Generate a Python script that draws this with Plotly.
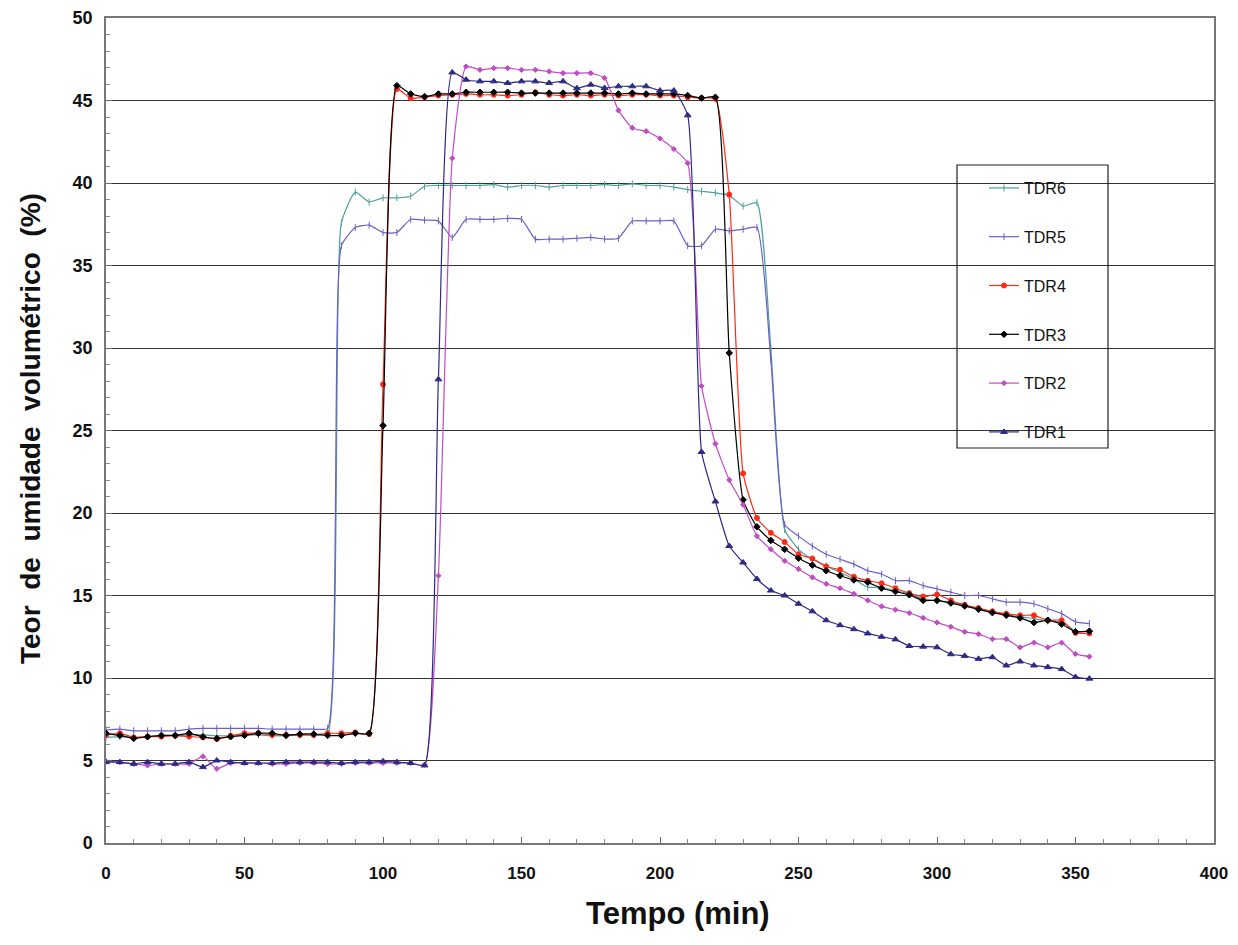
import plotly.graph_objects as go

tempo = list(range(0, 360, 5))

tdr1 = [4.9, 4.9, 4.8, 4.9, 4.8, 4.8, 4.9, 4.6, 5.0, 4.9, 4.85, 4.85, 4.85, 4.9, 4.9, 4.9,
        4.9, 4.85, 4.9, 4.9, 4.95, 4.9, 4.85, 4.7,
        28.1, 46.7, 46.26, 46.16, 46.16, 46.06, 46.16, 46.16, 46.06, 46.16, 45.74, 45.96,
        45.76, 45.86, 45.86, 45.86, 45.6, 45.6, 44.1,
        23.7, 20.7, 18.0, 17.0, 16.0, 15.3, 15.0, 14.5, 14.04, 13.5, 13.2, 12.96, 12.7, 12.5,
        12.34, 11.94, 11.9, 11.86, 11.44, 11.34, 11.16, 11.26, 10.76, 11.0, 10.76, 10.66,
        10.54, 10.06, 9.96]

tdr2 = [4.95, 4.9, 4.8, 4.7, 4.8, 4.8, 4.8, 5.25, 4.5, 4.85, 4.85, 4.85, 4.8, 4.8, 4.85,
        4.85, 4.8, 4.8, 4.85, 4.85, 4.85, 4.85, 4.85, 4.75,
        16.2, 41.5, 47.06, 46.86, 46.96, 46.96, 46.86, 46.86, 46.76, 46.66, 46.66, 46.66,
        46.36, 44.4, 43.34, 43.14, 42.7, 42.06, 41.2,
        27.7, 24.2, 22.0, 20.5, 18.6, 17.8, 17.1, 16.6, 16.1, 15.7, 15.44, 15.1, 14.7, 14.34,
        14.14, 13.94, 13.64, 13.36, 13.1, 12.8, 12.66, 12.36, 12.36, 11.86, 12.14, 11.86,
        12.14, 11.46, 11.3]

tdr3 = [6.65, 6.52, 6.34, 6.44, 6.52, 6.52, 6.65, 6.44, 6.34, 6.44, 6.52, 6.65, 6.65, 6.52,
        6.6, 6.6, 6.52, 6.52, 6.65, 6.65,
        25.3, 45.9, 45.4, 45.24, 45.4, 45.4, 45.5, 45.5, 45.5, 45.5, 45.45, 45.45, 45.45,
        45.45, 45.45, 45.45, 45.45, 45.4, 45.45, 45.4, 45.4, 45.4, 45.3, 45.15, 45.2, 29.7,
        20.8, 19.16, 18.34, 17.8, 17.26, 16.84, 16.5, 16.2, 15.94, 15.8, 15.44, 15.24, 15.04,
        14.7, 14.7, 14.54, 14.36, 14.16, 13.96, 13.8, 13.64, 13.36, 13.5, 13.26, 12.8, 12.84]

tdr4 = [6.55, 6.65, 6.4, 6.45, 6.45, 6.5, 6.45, 6.4, 6.3, 6.5, 6.65, 6.65, 6.55, 6.55, 6.55,
        6.55, 6.65, 6.65, 6.7, 6.6,
        27.8, 45.7, 45.14, 45.2, 45.3, 45.35, 45.4, 45.35, 45.35, 45.3, 45.35, 45.5, 45.35,
        45.3, 45.35, 45.3, 45.35, 45.3, 45.35, 45.35, 45.3, 45.3, 45.2, 45.15, 45.1, 39.3, 22.4,
        19.7, 18.8, 18.24, 17.5, 17.24, 16.76, 16.56, 16.14, 15.9, 15.74, 15.44, 15.14, 14.94,
        15.06, 14.7, 14.44, 14.24, 14.04, 13.9, 13.8, 13.8, 13.5, 13.5, 12.74, 12.7]

tdr5 = [6.85, 6.9, 6.8, 6.8, 6.8, 6.8, 6.9, 6.95, 6.95, 6.95, 6.95, 6.95, 6.9, 6.9, 6.9, 6.9,
        6.95,
        36.2, 37.3, 37.45, 37.0, 37.0, 37.8, 37.75, 37.7, 36.7, 37.8, 37.8, 37.8, 37.85, 37.8,
        36.6, 36.6, 36.6, 36.65, 36.7, 36.6, 36.65, 37.7, 37.7, 37.7, 37.7, 36.2, 36.2, 37.2,
        37.1, 37.2, 37.3, 29.3,
        19.3, 18.6, 18.0, 17.5, 17.2, 16.9, 16.5, 16.3, 15.9, 15.9, 15.6, 15.4, 15.2, 15.0,
        15.0, 14.8, 14.6, 14.6, 14.5, 14.2, 13.9, 13.4, 13.3]

tdr6 = [6.4, 6.45, 6.4, 6.45, 6.5, 6.5, 6.55, 6.55, 6.5, 6.5, 6.55, 6.55, 6.5, 6.5, 6.55,
        6.55, 6.6,
        37.6, 39.45, 38.85, 39.1, 39.1, 39.2, 39.8, 39.85, 39.85, 39.85, 39.85, 39.9, 39.75,
        39.85, 39.85, 39.75, 39.85, 39.85, 39.85, 39.9, 39.85, 39.95, 39.85, 39.85, 39.75,
        39.6, 39.5, 39.4, 39.25, 38.6, 38.8, 30.0,
        19.0, 17.8, 17.2, 16.8, 16.4, 16.0, 15.5, 15.5, 15.3, 15.1, 14.8, 14.7, 14.6, 14.4,
        14.2, 14.0, 13.85, 13.7, 13.6, 13.45, 13.4, 12.85, 12.8]

series_names = ["TDR6", "TDR5", "TDR4", "TDR3", "TDR2", "TDR1"]
series_values = [tdr6, tdr5, tdr4, tdr3, tdr2, tdr1]
series_colors = ["#4f9f9c", "#6b5fc8", "#ff2a17", "#000000", "#c04cc4", "#2e2a85"]
series_symbols = ["line-ns", "line-ns", "circle", "diamond", "diamond", "triangle-up"]
series_sizes = [5, 5, 5, 5, 4, 6]

x_ticks = [0, 50, 100, 150, 200, 250, 300, 350, 400]
y_ticks = [0, 5, 10, 15, 20, 25, 30, 35, 40, 45, 50]

fig = go.Figure()
for name, vals, col, sym, sz in zip(series_names, series_values, series_colors,
                                    series_symbols, series_sizes):
    fig.add_trace(go.Scatter(
        x=tempo, y=vals, name=name, mode="lines+markers", legendgroup=name,
        line=dict(color=col, width=1.2, shape="spline", smoothing=0.5),
        marker=dict(symbol=sym, size=sz, color=col, line=dict(color=col, width=1)),
    ))

font_main = "Arial, Liberation Sans, sans-serif"

# page has an 8px body margin; figure coordinates = page coordinates - 8
W, H = 1222, 929
L, R, T, B = 98, 16, 10, 94
PW, PH = W - L - R, H - T - B


def px(xp):
    return (xp - 8 - L) / PW


def py(yp):
    return (H - B - (yp - 8)) / PH


fig.update_layout(
    width=W, height=H,
    margin=dict(l=L, r=R, t=T, b=B, autoexpand=False),
    paper_bgcolor="white", plot_bgcolor="white",
    showlegend=True,
    legend=dict(
        x=px(984), y=py(171), xanchor="left", yanchor="top",
        bgcolor="rgba(0,0,0,0)", borderwidth=0,
        font=dict(family=font_main, size=16, color="#111"),
        tracegroupgap=25, itemwidth=30,
    ),
    xaxis=dict(
        range=[0, 400], tickvals=x_ticks, ticks="inside", ticklen=6, tickcolor="#666",
        showgrid=False, zeroline=False, showline=True, linecolor="#777", linewidth=1.5,
        mirror=True, automargin=False,
        minor=dict(dtick=10, ticks="inside", ticklen=4, tickcolor="#888", showgrid=False),
        tickfont=dict(family=font_main, size=17, color="#111", weight="bold"),
        ticklabelstandoff=14,
    ),
    yaxis=dict(
        range=[0, 50], tickvals=y_ticks, ticks="inside", ticklen=6, tickcolor="#666",
        showgrid=True, gridcolor="#333", gridwidth=1.4, zeroline=False,
        showline=True, linecolor="#777", linewidth=1.5, mirror=True, automargin=False,
        minor=dict(dtick=1, ticks="inside", ticklen=4, tickcolor="#888", showgrid=False),
        tickfont=dict(family=font_main, size=18, color="#111", weight="bold"),
        ticklabelstandoff=8,
    ),
    shapes=[dict(type="rect", xref="paper", yref="paper",
                 x0=px(957), x1=px(1108), y0=py(448), y1=py(165),
                 line=dict(color="#222", width=1.2), fillcolor="rgba(0,0,0,0)")],
    annotations=[
        dict(text="Tempo (min)", xref="paper", yref="paper", x=px(678), y=py(914),
             xanchor="center", yanchor="middle", showarrow=False,
             font=dict(family=font_main, size=31, color="#111", weight="bold")),
        dict(text="Teor  de  umidade  volumétrico  (%)", xref="paper", yref="paper",
             x=px(30), y=py(429), xanchor="center", yanchor="middle",
             textangle=-90, showarrow=False,
             font=dict(family=font_main, size=28, color="#111", weight="bold")),
    ],
)

fig.write_html("out.html")
